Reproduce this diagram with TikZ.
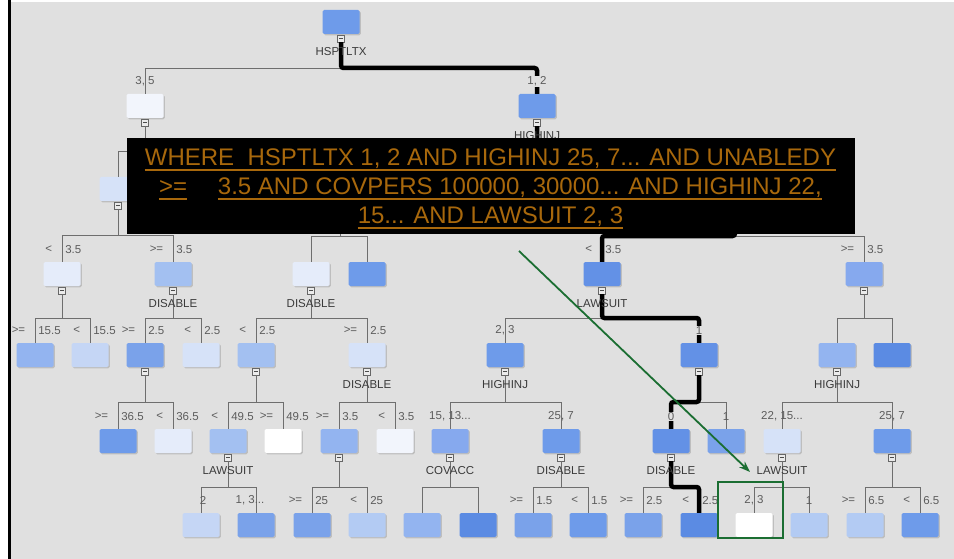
\documentclass[tikz,border=0pt]{standalone}
\usepackage{fontspec}
\setmainfont{Liberation Sans}
\usetikzlibrary{arrows.meta,positioning,shadows}
\definecolor{bg}{HTML}{E0E0E0}
\definecolor{ln}{HTML}{6E6E6E}
\definecolor{elc}{HTML}{5C5C5C}
\definecolor{vlc}{HTML}{3A3A3A}
\definecolor{gold}{HTML}{A8680C}
\definecolor{grn}{HTML}{1B6E32}
\definecolor{k1}{HTML}{5B8BE3}
\definecolor{k2}{HTML}{6391E6}
\definecolor{k3}{HTML}{6E9BEA}
\definecolor{k4}{HTML}{7AA2EA}
\definecolor{k5}{HTML}{86A9EE}
\definecolor{k6}{HTML}{93B4F0}
\definecolor{k7}{HTML}{A3C0F1}
\definecolor{k8}{HTML}{B3CBF3}
\definecolor{k9}{HTML}{C5D6F5}
\definecolor{k10}{HTML}{D6E2F8}
\definecolor{k11}{HTML}{E5ECFA}
\definecolor{k12}{HTML}{F2F5FC}
\definecolor{kw}{HTML}{FFFFFF}
\newcommand\lf{\fontsize{11.5}{13}\selectfont}
\newcommand\TN[4]{\node[tbox, fill=#4] (#1) at (#2,#3) {};}
\newcommand\SQ[1]{\node[sq, below=0.4pt of #1] (#1s) {};}
\newcommand\ED[4][tl]{\draw[#1] (#2s.south) -- (#2s.south |- 0,#3) -| (#4.north);}
\newcommand\SP[3]{\node[el, anchor=east] (#1op) at ([xshift=-9pt,yshift=12.5pt]#1.north) {#2};
  \node[el, anchor=west] (#1val) at ([xshift=2.5pt,yshift=12.5pt]#1.north) {#3};}
\newcommand\CT[3][]{\node[el,#1] (#2ct) at ([yshift=12.5pt]#2.north) {#3};}
\newcommand\VL[2]{\node[vl] (#1vl) at ([yshift=-9pt]#1s.south) {#2};}
\newcommand\UL[1]{\draw[gold, line width=1.8pt] ([yshift=-4pt]#1.base west) -- ([yshift=-4pt]#1.base east);}
\begin{document}
\begin{tikzpicture}[x=1pt,y=-1pt,
  tbox/.style={minimum width=37pt, minimum height=24pt, inner sep=0pt, rounded corners=1.5pt,
    drop shadow={shadow xshift=1.3pt, shadow yshift=-1.3pt, fill=black!38}},
  sq/.style={draw=black!60, fill=white!92!black, line width=0.5pt, minimum size=7pt, inner sep=0pt,
    path picture={\draw[black!70, line width=0.5pt] ([xshift=-1.8pt]path picture bounding box.center) -- ([xshift=1.8pt]path picture bounding box.center);}},
  tl/.style={draw=ln, line width=0.9pt},
  tk/.style={draw=black, line width=4.5pt, rounded corners=2.5pt},
  el/.style={font=\lf, text=elc, inner sep=0.6pt},
  vl/.style={font=\lf, text=vlc, inner sep=0.6pt},
  bt/.style={font=\fontsize{24}{29}\selectfont, text=gold, inner sep=0pt, anchor=base}]
\useasboundingbox (0,0) rectangle (954,559);
\fill[white] (0,0) rectangle (954,559);
\fill[bg] (11,2) rectangle (954,559);
\fill[black] (8,0) rectangle (11,559);
% ---------- nodes
\TN{r}{341}{22}{k3} \SQ{r}
\TN{a}{145}{106}{k12} \SQ{a}
\TN{b}{537}{106}{k3} \SQ{b}
\TN{c}{118}{189}{k10} \SQ{c}
\coordinate (hb) at (340,177); \coordinate (hbB) at (340,202);
\coordinate (hd) at (735,177); \coordinate (hdB) at (735,202);
\TN{d}{62}{274}{k11} \SQ{d}
\TN{e}{173}{274}{k7} \SQ{e}
\TN{f}{311}{274}{k11} \SQ{f}
\TN{g}{367}{274}{k3}
\TN{h}{602}{274}{k2} \SQ{h}
\TN{i}{864}{274}{k5} \SQ{i}
\TN{d1}{35}{355}{k6}
\TN{d2}{90}{355}{k9}
\TN{e1}{145}{355}{k4} \SQ{e1}
\TN{e2}{201}{355}{k10}
\TN{f1}{256}{355}{k7} \SQ{f1}
\TN{f2}{367}{355}{k10} \SQ{f2}
\TN{h1}{505}{355}{k3} \SQ{h1}
\TN{h2}{699}{355}{k2} \SQ{h2}
\TN{i1}{837}{355}{k6} \SQ{i1}
\TN{i2}{892}{355}{k1}
\TN{e1a}{118}{441}{k3}
\TN{e1b}{173}{441}{k11}
\TN{f1a}{228}{441}{k7} \SQ{f1a}
\TN{f1b}{283}{441}{kw}
\TN{f2a}{339}{441}{k6} \SQ{f2a}
\TN{f2b}{395}{441}{k12}
\TN{h1a}{450}{441}{k5} \SQ{h1a}
\TN{h1b}{561}{441}{k3} \SQ{h1b}
\TN{h2a}{671}{441}{k2} \SQ{h2a}
\TN{h2b}{726}{441}{k4}
\TN{i1a}{782}{441}{k10} \SQ{i1a}
\TN{i1b}{892}{441}{k3} \SQ{i1b}
\TN{f1aA}{201}{525}{k9}
\TN{f1aB}{256}{525}{k4}
\TN{f2aA}{312}{525}{k4}
\TN{f2aB}{367}{525}{k8}
\TN{h1aA}{422}{525}{k6}
\TN{h1aB}{478}{525}{k1}
\TN{h1bA}{533}{525}{k4}
\TN{h1bB}{588}{525}{k3}
\TN{h2aA}{643}{525}{k4}
\TN{h2aB}{699}{525}{k1}
\TN{i1aA}{754}{525}{kw}
\TN{i1aB}{809}{525}{k8}
\TN{i1bA}{865}{525}{k8}
\TN{i1bB}{920}{525}{k3}
% ---------- thin connectors
\ED{r}{68}{a}
\ED{a}{151}{c}
\draw[tl] (as.south |- 0,151) -| (hb);
\draw[tl] (hbB) -- (340,236) -| (f.north);
\draw[tl] (340,236) -| (g.north);
\draw[tl] (hdB) -- (735,236) -| (i.north);
\ED{c}{235}{d} \ED{c}{235}{e}
\ED{d}{318}{d1} \ED{d}{318}{d2}
\ED{e}{318}{e1} \ED{e}{318}{e2}
\ED{f}{318}{f1} \ED{f}{318}{f2}
\ED{h}{318}{h1}
\ED{i}{318}{i1} \ED{i}{318}{i2}
\ED{e1}{402}{e1a} \ED{e1}{402}{e1b}
\ED{f1}{402}{f1a} \ED{f1}{402}{f1b}
\ED{f2}{402}{f2a} \ED{f2}{402}{f2b}
\ED{h1}{402}{h1a} \ED{h1}{402}{h1b}
\ED{h2}{402}{h2b}
\ED{i1}{402}{i1a} \ED{i1}{402}{i1b}
\ED{f1a}{487}{f1aA} \ED{f1a}{487}{f1aB}
\ED{f2a}{487}{f2aA} \ED{f2a}{487}{f2aB}
\ED{h1a}{487}{h1aA} \ED{h1a}{487}{h1aB}
\ED{h1b}{487}{h1bA} \ED{h1b}{487}{h1bB}
\ED{h2a}{487}{h2aA}
\ED{i1a}{487}{i1aA} \ED{i1a}{487}{i1aB}
\ED{i1b}{487}{i1bA} \ED{i1b}{487}{i1bB}
% ---------- thick path
\ED[tk]{r}{68}{b}
\draw[tk] (bs.south) -- (bs.south |- 0,151) -| (hd);
\draw[tk] (hdB) -- (735,236) -| (h.north);
\ED[tk]{h}{318}{h2}
\ED[tk]{h2}{402}{h2a}
\ED[tk]{h2a}{487}{h2aB}
% ---------- variable labels
\VL{r}{HSPTLTX}
\VL{b}{HIGHINJ}
\VL{e}{DISABLE}
\VL{f}{DISABLE}
\VL{h}{LAWSUIT}
\VL{f2}{DISABLE}
\VL{h1}{HIGHINJ}
\VL{i1}{HIGHINJ}
\VL{f1a}{LAWSUIT}
\VL{h1a}{COVACC}
\VL{h1b}{DISABLE}
\VL{h2a}{DISABLE}
\VL{i1a}{LAWSUIT}
% ---------- edge labels
\CT{a}{3, 5}
\CT[fill=bg]{b}{1, 2}
\SP{d}{<}{3.5} \SP{e}{>=}{3.5}
\SP{h}{<}{3.5} \SP{i}{>=}{3.5}
\SP{d1}{>=}{15.5} \SP{d2}{<}{15.5}
\SP{e1}{>=}{2.5} \SP{e2}{<}{2.5}
\SP{f1}{<}{2.5} \SP{f2}{>=}{2.5}
\CT{h1}{2, 3}
\CT[fill=bg]{h2}{1}
\SP{e1a}{>=}{36.5} \SP{e1b}{<}{36.5}
\SP{f1a}{<}{49.5} \SP{f1b}{>=}{49.5}
\SP{f2a}{>=}{3.5} \SP{f2b}{<}{3.5}
\CT{h1a}{15, 13...}
\CT{h1b}{25, 7}
\CT[fill=bg]{h2a}{0}
\CT{h2b}{1}
\CT{i1a}{22, 15...}
\CT{i1b}{25, 7}
\CT[xshift=2pt]{f1aA}{2}
\CT[xshift=-6pt]{f1aB}{1, 3...}
\SP{f2aA}{>=}{25} \SP{f2aB}{<}{25}
\SP{h1bA}{>=}{1.5} \SP{h1bB}{<}{1.5}
\SP{h2aA}{>=}{2.5} \SP{h2aB}{<}{2.5}
\CT{i1aA}{2, 3}
\CT{i1aB}{1}
\SP{i1bA}{>=}{6.5} \SP{i1bB}{<}{6.5}
% ---------- callout
\fill[black] (127,138) rectangle (855,234);
\node[bt] (t1) at (490.5,166) {WHERE\ \ HSPTLTX 1, 2 AND HIGHINJ 25, 7... AND UNABLEDY};
\node[bt, anchor=base west] (t2a) at (159,195) {>=};
\node[bt, anchor=base east] (t2b) at (822,195) {3.5 AND COVPERS 100000, 30000... AND HIGHINJ 22,};
\node[bt] (t3) at (490.5,224) {15... AND LAWSUIT 2, 3};
\UL{t1} \UL{t2a} \UL{t2b} \UL{t3}
% ---------- highlight
\node[draw=grn, line width=2.2pt, minimum width=65pt, minimum height=56pt, inner sep=0pt] (hl) at (750.5,510) {};
\coordinate (atail) at (519,251);
\coordinate (ahead) at (750,472);
\draw[grn, line width=1.8pt, -{Stealth[length=11pt,width=8pt]}] (atail) -- (ahead);
\end{tikzpicture}
\end{document}
